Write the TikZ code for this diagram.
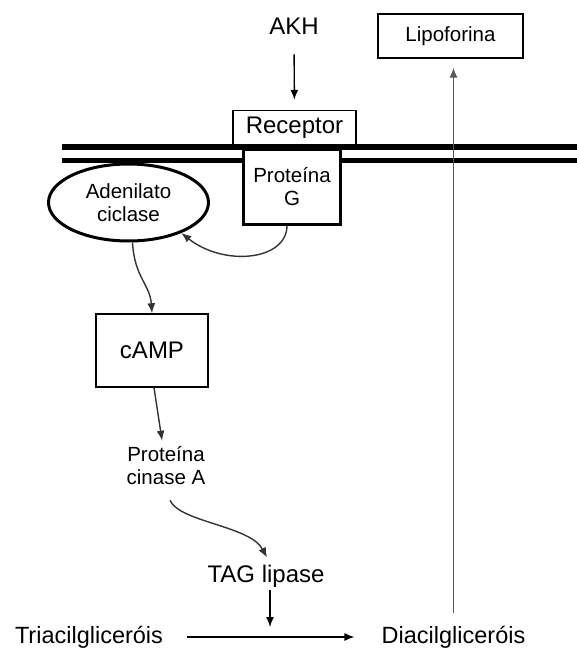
\documentclass[tikz,border=0pt]{standalone}
\usepackage{fontspec}
\setmainfont{Liberation Sans}
\usetikzlibrary{arrows.meta,shapes.geometric}
\definecolor{curvegray}{gray}{0.2}
\definecolor{linegray}{gray}{0.35}
\tikzset{
  big/.style={font=\fontsize{24}{28}\selectfont, inner sep=0pt},
  small/.style={font=\fontsize{20.5}{23}\selectfont, align=center, inner sep=0pt},
  box/.style={draw, line width=1.4pt, fill=white},
  arr/.style={line width=1.4pt, -{Latex[length=10pt,width=8pt]}},
}

\begin{document}
\begin{tikzpicture}[x=1pt,y=-1pt]
		%%%%% START %%%%%
		\useasboundingbox (0,0) rectangle (577,650);
		
		% membrana
		\draw[line width=6.5pt] (62,147) -- (577,147);
		\draw[line width=4.5pt] (62,160.5) -- (577,160.5);
		
		\node[big] (akh) at (294,26) {AKH};
		\node[box, big, minimum width=123pt, minimum height=34pt] (rec) at (294.5,127.5) {Receptor};
		\node[box, small, line width=3pt, minimum width=97pt, minimum height=75pt] (protg) at (292,186.5) {Proteína\\G};
		\node[box, small, minimum width=145pt, minimum height=44pt] (lipo) at (450.5,36) {Lipoforina};
		
		\node[ellipse, draw, line width=3pt, fill=white, small, minimum width=160pt, minimum height=77pt] (adc) at (128.5,202.5) {Adenilato\\ciclase};
		\node[box, big, minimum width=112pt, minimum height=73pt] (camp) at (152,350.5) {cAMP};
		\node[small] (pka) at (166,466) {Proteína\\cinase A};
		\node[big] (tag) at (266,576) {TAG lipase};
		
		\node[big, font=\fontsize{23.5}{28}\selectfont] (tri) at (89,637) {Triacilgliceróis};
		\node[big, font=\fontsize{23.5}{28}\selectfont] (di) at (453.5,637) {Diacilgliceróis};
		\coordinate (mid) at (270,637);
		
		% setas
		\draw[arr, shorten <=20pt, shorten >=10pt] (akh) -- (rec);
		\draw[arr, curvegray] ([xshift=-5pt]protg.south) .. controls +(0,35) and +(43,34) .. (adc.-30);
		\draw[arr, curvegray] ([xshift=4pt]adc.south) .. controls +(2,35) and +(-2,-29) .. (camp.north);
		\draw[arr, curvegray, shorten >=6pt] ([xshift=2pt]camp.south) -- ([xshift=-3pt]pka.north);
		\draw[arr, curvegray] ([shift={(4,15)}]pka.south) .. controls +(10,22) and +(-17,-32) .. ([shift={(1,-7)}]tag.north);
		\draw[arr, shorten <=3pt, shorten >=10pt] (tag.south -| mid) -- (mid);
		\draw[arr, shorten <=24pt, shorten >=27pt] (tri) -- (di);
		\draw[arr, linegray, line width=1.1pt, shorten <=13pt, shorten >=9pt] (di.north) -- (di.north |- lipo.south);
		
		%%%%% END %%%%%
\end{tikzpicture}
\end{document}
